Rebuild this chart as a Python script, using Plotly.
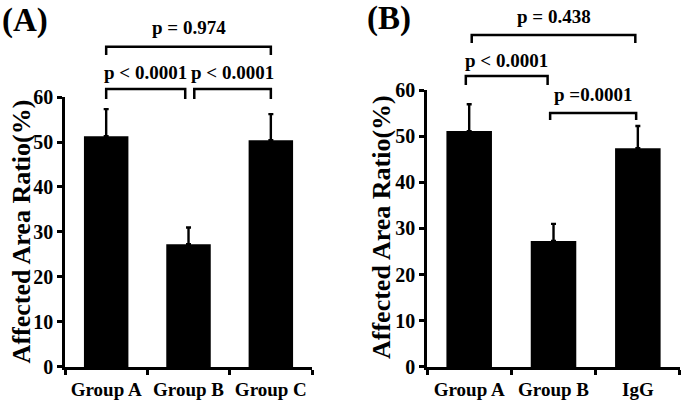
import plotly.graph_objects as go

# ---- data ----
cats_a = ["Group A", "Group B", "Group C"]
vals_a = [51.3, 27.3, 50.4]
err_a = [6.0, 3.7, 5.8]

cats_b = ["Group A", "Group B", "IgG"]
vals_b = [51.1, 27.3, 47.4]
err_b = [5.8, 3.7, 4.8]

yticks = [0, 10, 20, 30, 40, 50, 60]

# comparisons: (left idx, right idx, label)
comps_a = [(0, 2, "p = 0.974"), (0, 1, "p < 0.0001"), (1, 2, "p < 0.0001")]
comps_b = [(0, 2, "p = 0.438"), (0, 1, "p < 0.0001"), (1, 2, "p =0.0001")]

FONT = "Liberation Serif"
YTITLE = "Affected Area Ratio(%)"

fig = go.Figure()
for cats, vals, errs, xa, ya in [(cats_a, vals_a, err_a, "x", "y"),
                                  (cats_b, vals_b, err_b, "x2", "y2")]:
    fig.add_trace(go.Bar(
        x=cats, y=vals, xaxis=xa, yaxis=ya,
        marker=dict(color="black", line=dict(width=0)),
        error_y=dict(type="data", array=errs, arrayminus=[0] * len(errs),
                     symmetric=False, color="black", thickness=2.4, width=2.5),
        showlegend=False,
    ))

line_common = dict(showgrid=False, zeroline=False, showline=True,
                   linecolor="black", linewidth=2.5, ticks="outside",
                   ticklen=5, tickwidth=2.5, tickcolor="black",
                   automargin=False)

fig.update_layout(
    width=685, height=402,
    margin=dict(l=0, r=0, t=0, b=0),
    paper_bgcolor="white", plot_bgcolor="white",
    bargap=0.46,
    font=dict(family=FONT, color="black"),
    xaxis=dict(domain=[0.0949, 0.4555], anchor="y", tickson="boundaries",
               tickangle=0, tickvals=cats_a, ticklabelstandoff=3,
               ticktext=[f"<b>{c}</b>" for c in cats_a],
               tickfont=dict(family=FONT, size=19, color="black"), **line_common),
    yaxis=dict(domain=[0.0871, 0.7587], anchor="x", range=[0, 60],
               tickvals=yticks, ticktext=[f"<b>{t}</b>" for t in yticks],
               tickfont=dict(family=FONT, size=20, color="black"), **line_common),
    xaxis2=dict(domain=[0.6234, 0.9927], anchor="y2", tickson="boundaries",
                tickangle=0, tickvals=cats_b, ticklabelstandoff=3,
                ticktext=[f"<b>{c}</b>" for c in cats_b],
                tickfont=dict(family=FONT, size=19, color="black"), **line_common),
    yaxis2=dict(domain=[0.0871, 0.7761], anchor="x2", range=[0, 60],
                tickvals=yticks, ticktext=[f"<b>{t}</b>" for t in yticks],
                tickfont=dict(family=FONT, size=20, color="black"), **line_common),
)

# y-axis titles
for xp, yp in [(0.031, 0.425), (0.556, 0.435)]:
    fig.add_annotation(x=xp, y=yp, xref="paper", yref="paper",
                       text=f"<b>{YTITLE}</b>", textangle=-90, showarrow=False,
                       xanchor="center", yanchor="middle",
                       font=dict(family=FONT, size=26, color="black"))

# bracket geometry: (bar level, leg bottom, text level, left offset, right offset)
geom_a = [(1.186, 1.156, 1.256, 0.0, 0.0),
          (1.030, 0.993, 1.089, 0.0, -0.04),
          (1.030, 0.993, 1.089, 0.07, 0.0)]
geom_b = [(1.199, 1.170, 1.264, 0.03, -0.03),
          (1.051, 1.018, 1.108, -0.04, -0.07),
          (0.917, 0.892, 0.982, -0.04, -0.02)]

for comps, geom, xr, yr in [(comps_a, geom_a, "x", "y domain"),
                            (comps_b, geom_b, "x2", "y2 domain")]:
    for (i, j, label), (lvl, leg, tl, dl, dr) in zip(comps, geom):
        x0, x1 = i + dl, j + dr
        fig.add_shape(type="path", xref=xr, yref=yr,
                      path=f"M {x0},{leg} L {x0},{lvl} L {x1},{lvl} L {x1},{leg}",
                      line=dict(color="black", width=2.5))
        fig.add_annotation(x=(x0 + x1) / 2, y=tl, xref=xr, yref=yr,
                           text=f"<b>{label}</b>", showarrow=False,
                           font=dict(family=FONT, size=19, color="black"),
                           yanchor="middle")

fig.add_annotation(x=0.0, y=0.95, xref="paper", yref="paper", text="<b>(A)</b>",
                   showarrow=False, xanchor="left", yanchor="middle",
                   font=dict(family=FONT, size=33, color="black"))
fig.add_annotation(x=0.533, y=0.955, xref="paper", yref="paper", text="<b>(B)</b>",
                   showarrow=False, xanchor="left", yanchor="middle",
                   font=dict(family=FONT, size=33, color="black"))

fig.write_html("out.html", config={"displayModeBar": False},
               post_script="document.body.style.margin='0';document.body.style.overflow='hidden';")
